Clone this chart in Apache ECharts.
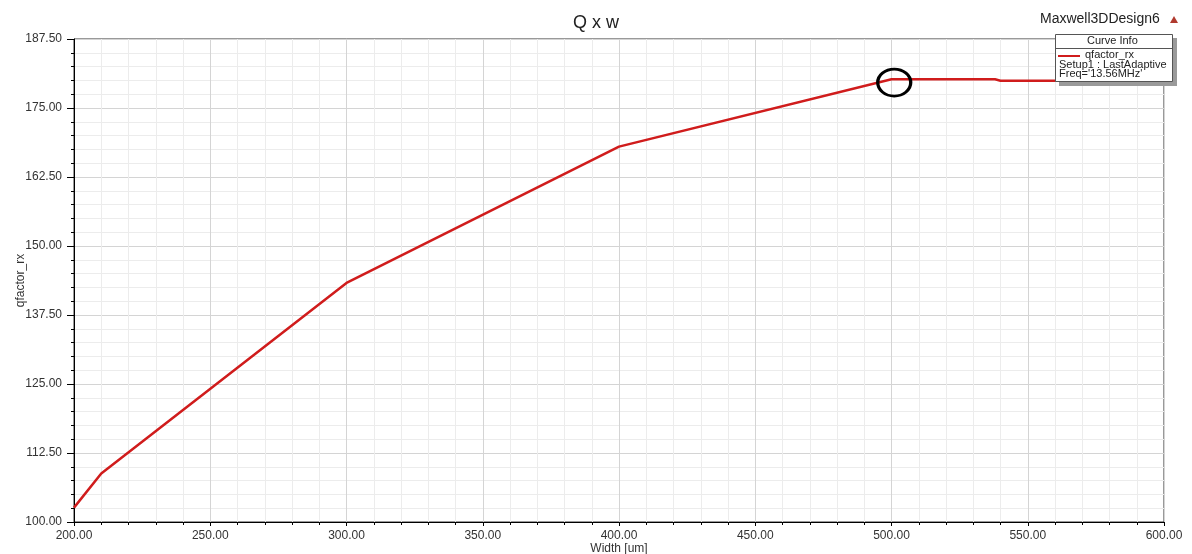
<!DOCTYPE html>
<html>
<head>
<meta charset="utf-8">
<script src="https://cdn.jsdelivr.net/npm/echarts@6/dist/echarts.min.js"></script>
<style>
html,body{margin:0;padding:0;background:#fff;}
#chart{width:1192px;height:554px;}
</style>
</head>
<body>
<div id="chart"></div>
<script>
// Data
var widths = [200, 210, 300, 400, 500, 538, 540, 600];
var qfactor = [102.6, 108.8, 143.3, 168.0, 180.2, 180.2, 179.95, 179.95];
var highlightPoint = [501, 179.6];
var xTickRange = [200, 600, 50];
var yTickRange = [100, 187.5, 12.5];
var legendLines = ['qfactor_rx', 'Setup1 : LastAdaptive', "Freq='13.56MHz'"];

var seriesData = widths.map(function (w, i) { return [w, qfactor[i]]; });
var FONT = '"Liberation Sans", Arial, sans-serif';

var chart = echarts.init(document.getElementById('chart'), null, {renderer: 'canvas'});
chart.setOption({
  animation: false,
  backgroundColor: '#ffffff',
  title: {
    text: 'Q x w',
    left: 'center',
    top: 9,
    textStyle: {fontFamily: FONT, fontSize: 18, fontWeight: 'normal', color: '#222'}
  },
  grid: {
    left: 74, right: 28, top: 39, bottom: 32,
    outerBoundsMode: 'none',
    containLabel: false,
    show: true, borderColor: '#333', borderWidth: 1, backgroundColor: 'transparent'
  },
  xAxis: {
    type: 'value',
    min: xTickRange[0], max: xTickRange[1], interval: xTickRange[2],
    name: 'Width [um]',
    nameLocation: 'middle',
    nameGap: 21,
    nameMoveOverlap: false,
    nameTextStyle: {fontFamily: FONT, fontSize: 12, color: '#333'},
    axisLine: {show: true, lineStyle: {color: '#000', width: 1}},
    axisTick: {show: true, length: 4, lineStyle: {color: '#000'}},
    minorTick: {show: true, splitNumber: 5, length: 3, lineStyle: {color: '#000'}},
    axisLabel: {
      fontFamily: FONT, fontSize: 12, color: '#333', margin: 8,
      formatter: function (v) { return v.toFixed(2); }
    },
    splitLine: {show: true, lineStyle: {color: '#d4d4d4', width: 1}},
    minorSplitLine: {show: true, lineStyle: {color: '#ececec', width: 1}}
  },
  yAxis: {
    type: 'value',
    min: yTickRange[0], max: yTickRange[1], interval: yTickRange[2],
    name: 'qfactor_rx',
    nameLocation: 'middle',
    nameGap: 47,
    nameMoveOverlap: false,
    nameRotate: 90,
    nameTextStyle: {fontFamily: FONT, fontSize: 12, color: '#333'},
    axisLine: {show: true, lineStyle: {color: '#000', width: 1}},
    axisTick: {show: true, length: 7, lineStyle: {color: '#000'}},
    minorTick: {show: true, splitNumber: 5, length: 3, lineStyle: {color: '#000'}},
    axisLabel: {
      fontFamily: FONT, fontSize: 12, color: '#333', margin: 12,
      formatter: function (v) { return v.toFixed(2); }
    },
    splitLine: {show: true, lineStyle: {color: '#d4d4d4', width: 1}},
    minorSplitLine: {show: true, lineStyle: {color: '#ececec', width: 1}}
  },
  series: [{
    name: 'qfactor_rx',
    type: 'line',
    data: seriesData,
    showSymbol: false,
    symbol: 'none',
    lineStyle: {color: '#d01c1c', width: 2.5},
    z: 3,
    markPoint: {
      silent: true,
      symbol: 'circle',
      symbolSize: [33, 27],
      label: {show: false},
      itemStyle: {color: 'rgba(0,0,0,0)', borderColor: '#000', borderWidth: 3},
      data: [{coord: highlightPoint}]
    }
  }],
  graphic: [
    {
      type: 'text', left: 1040, top: 12,
      style: {text: 'Maxwell3DDesign6', fontFamily: FONT, fontSize: 14, fill: '#222'}
    },
    {
      type: 'polygon', z: 10,
      shape: {points: [[1174, 16], [1170, 23], [1178, 23]]},
      style: {fill: '#b03a2e'}
    },
    {type: 'rect', z: 20, shape: {x: 1059, y: 38, width: 118, height: 48}, style: {fill: '#9a9a9a'}},
    {type: 'rect', z: 21, shape: {x: 1055.5, y: 34.5, width: 117, height: 47}, style: {fill: '#fff', stroke: '#555', lineWidth: 1}},
    {type: 'line', z: 22, shape: {x1: 1055.5, y1: 48.5, x2: 1172.5, y2: 48.5}, style: {stroke: '#555', lineWidth: 1}},
    {type: 'text', z: 23, left: 1087, top: 35, style: {text: 'Curve Info', fontFamily: FONT, fontSize: 11, fill: '#222'}},
    {type: 'line', z: 22, shape: {x1: 1058, y1: 56, x2: 1080, y2: 56}, style: {stroke: '#d01c1c', lineWidth: 2}},
    {type: 'text', z: 23, left: 1085, top: 49, style: {text: legendLines[0], fontFamily: FONT, fontSize: 11, fill: '#222'}},
    {type: 'text', z: 23, left: 1059, top: 59, style: {text: legendLines[1], fontFamily: FONT, fontSize: 11, fill: '#222'}},
    {type: 'text', z: 23, left: 1059, top: 68, style: {text: legendLines[2], fontFamily: FONT, fontSize: 11, fill: '#222'}}
  ]
});
</script>
</body>
</html>
